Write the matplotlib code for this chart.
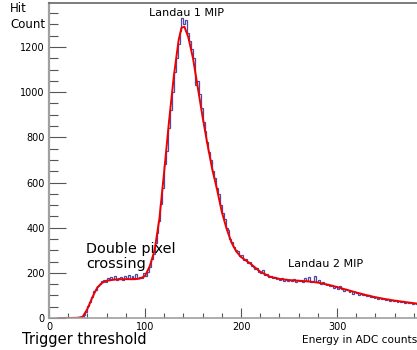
import matplotlib

matplotlib.use("Agg")
import matplotlib.pyplot as plt
import numpy as np
from matplotlib.ticker import MultipleLocator

OUTPUT_PNG = "out.png"

# histogram: 2 ADC-count bins starting at 10
BIN_START = 10
BIN_WIDTH = 2
HIT_COUNTS = [
    0, 0, 0, 0, 0, 0, 0, 0, 0, 0,
    1, 3, 6, 14, 28, 55, 72, 95, 118, 125,
    140, 150, 162, 168, 158, 175, 168, 180, 172, 185,
    170, 178, 182, 170, 188, 176, 190, 172, 185, 178,
    195, 176, 182, 178, 200, 185, 205, 225, 262, 285,
    330, 375, 430, 505, 575, 680, 740, 840, 920, 1000,
    1090, 1150, 1215, 1270, 1330, 1300, 1320, 1260, 1225, 1190,
    1150, 1030, 1050, 990, 930, 870, 830, 780, 735, 700,
    650, 620, 575, 550, 500, 465, 440, 400, 390, 350,
    335, 315, 300, 295, 275, 280, 255, 262, 245, 250,
    232, 228, 215, 222, 205, 198, 212, 190, 195, 180,
    188, 176, 182, 172, 178, 170, 175, 166, 172, 164,
    170, 165, 172, 160, 168, 162, 170, 158, 175, 165,
    180, 158, 166, 185, 160, 168, 150, 158, 152, 146,
    150, 140, 148, 135, 142, 130, 140, 128, 120, 130,
    122, 115, 120, 108, 116, 110, 104, 108, 100, 104,
    96, 102, 92, 95, 88, 93, 85, 88, 82, 86,
    80, 84, 76, 80, 74, 78, 72, 76, 70, 74,
    68, 72, 66, 70, 64, 68, 63,
]

# fitted curve (double pixel + Landau 1 MIP + Landau 2 MIP)
FIT_X = [10, 20, 30, 35, 40, 45, 50, 55, 60, 70, 80, 90, 95, 100, 105, 110,
         115, 120, 125, 130, 135, 138, 141, 145, 150, 155, 160, 165, 170, 175,
         180, 185, 190, 195, 200, 205, 210, 220, 230, 240, 250, 260, 270, 280,
         290, 300, 310, 320, 330, 340, 350, 360, 370, 383]
FIT_Y = [0, 0, 1, 5, 40, 90, 133, 155, 165, 171, 172, 172, 175, 186, 230, 300,
         440, 650, 870, 1070, 1230, 1285, 1290, 1245, 1150, 1020, 890, 770, 660, 570,
         470, 395, 335, 295, 270, 255, 240, 205, 183, 173, 168, 165, 162, 157,
         148, 137, 125, 113, 102, 92, 84, 77, 71, 64]

ANNOTATIONS = [
    ("Landau 1 MIP", 142.7, 1337, 8),
    ("Landau 2 MIP", 288, 226, 8),
]


def configure_style():
    plt.rcParams["font.family"] = "DejaVu Sans"
    plt.rcParams["axes.unicode_minus"] = False


def plot_spectrum():
    configure_style()
    fig = plt.figure(figsize=(4.17, 3.5), dpi=100)
    ax = fig.add_axes([49 / 417, 32 / 350, 368 / 417, 315 / 350])

    edges = BIN_START + BIN_WIDTH * np.arange(len(HIT_COUNTS) + 1)
    ax.stairs(HIT_COUNTS, edges, color="#4b4ba6", linewidth=0.9)
    ax.plot(FIT_X, FIT_Y, color="#ee0000", linewidth=1.4)

    ax.set_xlim(0, 383.3)
    ax.set_ylim(0, 1395)

    ax.xaxis.set_major_locator(MultipleLocator(100))
    ax.xaxis.set_minor_locator(MultipleLocator(20))
    ax.yaxis.set_major_locator(MultipleLocator(200))
    ax.yaxis.set_minor_locator(MultipleLocator(50))
    ax.tick_params(axis="both", which="both", direction="in", colors="#555555",
                   labelcolor="black", labelsize=7)
    ax.tick_params(axis="y", which="major", length=12.5, width=0.8, pad=3)
    ax.tick_params(axis="y", which="minor", length=6.5, width=0.8)
    ax.tick_params(axis="x", which="major", length=7, width=0.8, pad=3)
    ax.tick_params(axis="x", which="minor", length=3.6, width=0.8)

    ax.spines["right"].set_visible(False)
    ax.spines["left"].set_color("#a0a0a0")
    ax.spines["left"].set_linewidth(1.6)
    ax.spines["bottom"].set_color("#a0a0a0")
    ax.spines["bottom"].set_linewidth(1.2)
    ax.spines["top"].set_color("#666666")
    ax.spines["top"].set_linewidth(1.2)

    for text, x, y, size in ANNOTATIONS:
        ax.text(x, y, text, fontsize=size, ha="center", va="baseline")

    fig.text(10 / 417, 1 - 2 / 350, "Hit\nCount", fontsize=8.5, ha="left", va="top",
             linespacing=1.25)
    fig.text(1.0, 1 - 343 / 350, "Energy in ADC counts", fontsize=7.6, ha="right",
             va="baseline")
    fig.text(22 / 417, 1 - 344 / 350, "Trigger threshold", fontsize=10.5, ha="left",
             va="baseline")
    fig.text(86 / 417, 1 - 242 / 350, "Double pixel\ncrossing", fontsize=10.4,
             ha="left", va="top", linespacing=1.05)

    fig.savefig(OUTPUT_PNG, dpi=100)


if __name__ == "__main__":
    plot_spectrum()
